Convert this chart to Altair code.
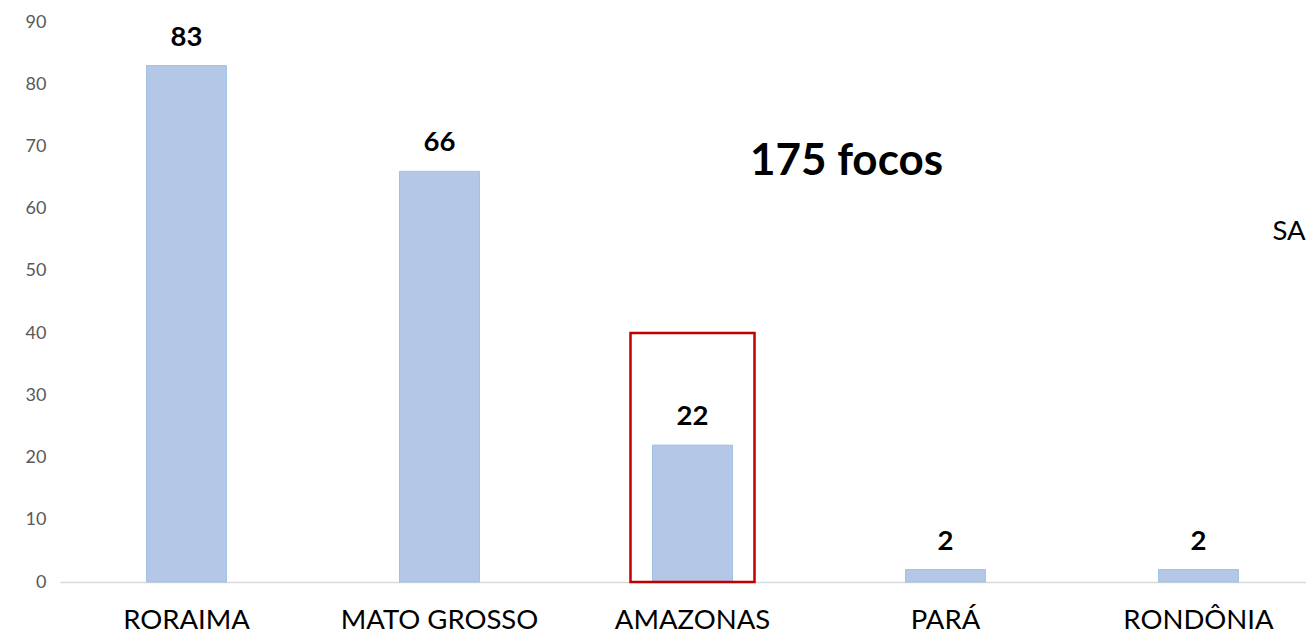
import altair as alt
import pandas as pd

# ---- data ----
states = ["RORAIMA", "MATO GROSSO", "AMAZONAS", "PARÁ", "RONDÔNIA"]
focos = [83, 66, 22, 2, 2]
highlight_state = ["AMAZONAS"]
highlight_top = [40]
total_label = ["175 focos"]
total_anchor_state = ["AMAZONAS"]
total_anchor_value = [67.5]
side_label = ["SA"]
side_anchor_state = ["RONDÔNIA"]
side_anchor_value = [56.3]

df = pd.DataFrame({"estado": states, "focos": focos})
df_hl = pd.DataFrame({"estado": highlight_state, "top": highlight_top, "bottom": [0]})
df_total = pd.DataFrame({"estado": total_anchor_state, "v": total_anchor_value, "t": total_label})
df_side = pd.DataFrame({"estado": side_anchor_state, "v": side_anchor_value, "t": side_label})

FONT = "Lato"

x_enc = alt.X(
    "estado:N",
    sort=states,
    scale=alt.Scale(range=[0, 1265], paddingInner=0.684, paddingOuter=0.342),
    axis=alt.Axis(
        title=None, labelAngle=0, ticks=False, domainColor="#D9D9D9", domainWidth=1.5,
        labelFont=FONT, labelFontSize=27.5, labelColor="#000000", labelPadding=24,
        labelLimit=400,
    ),
)
y_scale = alt.Scale(domain=[0, 90], nice=False)
y_enc = alt.Y(
    "focos:Q",
    scale=y_scale,
    axis=alt.Axis(
        title=None, values=list(range(0, 91, 10)), grid=False, domain=False, ticks=False,
        labelFont=FONT, labelFontSize=18, labelColor="#595959", labelPadding=14,
    ),
)

bars = alt.Chart(df).mark_bar(color="#B4C7E7", stroke="#9DC3E6", strokeWidth=1).encode(
    x=x_enc, y=y_enc
)

labels = alt.Chart(df).mark_text(
    font=FONT, fontSize=27.5, fontWeight="bold", color="#000000", baseline="alphabetic", dy=-20
).encode(x=alt.X("estado:N", sort=states), y=alt.Y("focos:Q", scale=y_scale), text="focos:Q")

box = alt.Chart(df_hl).mark_bar(
    filled=False, fill=None, stroke="#C00000", strokeWidth=2.5, size=124
).encode(
    x=alt.X("estado:N", sort=states),
    y=alt.Y("top:Q", scale=y_scale),
    y2="bottom:Q",
)

total = alt.Chart(df_total).mark_text(
    font=FONT, fontSize=44, fontWeight="bold", color="#000000", dx=154, baseline="middle"
).encode(x=alt.X("estado:N", sort=states), y=alt.Y("v:Q", scale=y_scale), text="t:N")

side = alt.Chart(df_side).mark_text(
    font=FONT, fontSize=27.5, color="#000000", dx=74, align="left", baseline="middle"
).encode(x=alt.X("estado:N", sort=states), y=alt.Y("v:Q", scale=y_scale), text="t:N")

chart = (
    alt.layer(bars, box, labels, total, side)
    .properties(
        width=1246,
        height=560,
        autosize=alt.AutoSizeParams(type="none"),
        padding={"left": 52, "top": 14, "right": 0, "bottom": 53},
        background="white",
        view=alt.ViewBackground(stroke="transparent", strokeWidth=0),
    )
    .configure_view(stroke="transparent", strokeWidth=0)
)

chart.save("out.html", embed_options={"renderer": "svg", "actions": False})
